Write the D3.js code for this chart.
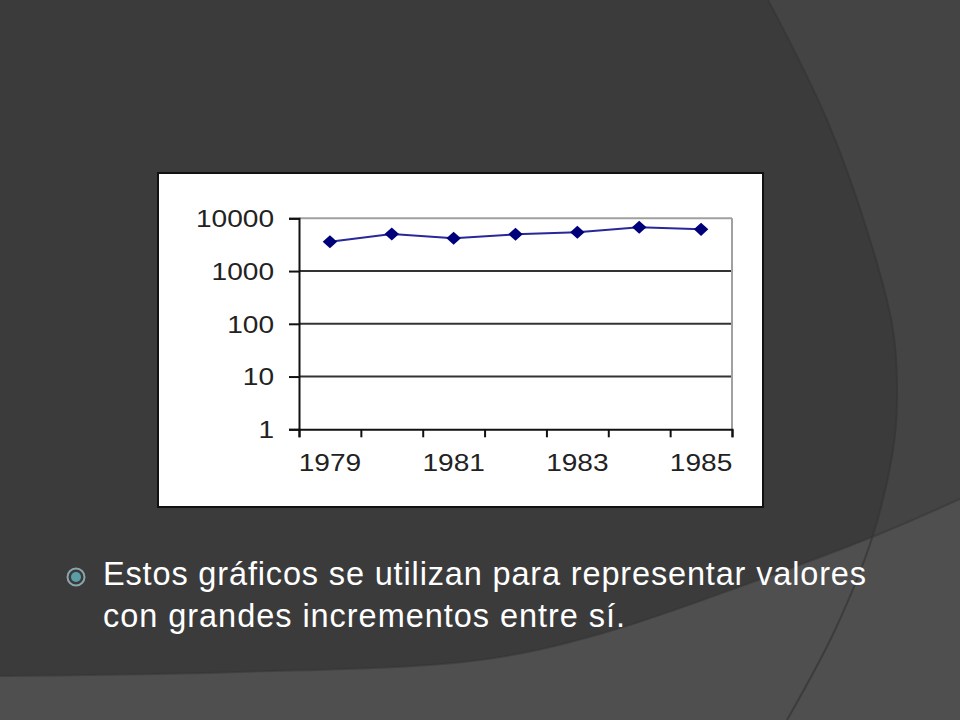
<!DOCTYPE html>
<html><head><meta charset="utf-8">
<script src="https://cdn.jsdelivr.net/npm/d3@7"></script>
<style>html,body{margin:0;padding:0;background:#3b3b3b;overflow:hidden}svg{display:block}</style>
</head><body>
<svg id="c" width="960" height="720"></svg>
<script>
const years = ["1979","1980","1981","1982","1983","1984","1985"];
const values = [3600, 5040, 4180, 4980, 5430, 6760, 6170];
const yTickValues = [1, 10, 100, 1000, 10000];
const xLabelYears = ["1979","1981","1983","1985"];
const bulletLines = ["Estos gráficos se utilizan para representar valores", "con grandes incrementos entre sí."];

(function(){
const svg = d3.select("#c");

// ---- slide background ----
svg.append("rect").attr("width",960).attr("height",720).attr("fill","#3b3b3b");
const arcPts = [[768,0],[827,120],[870,240],[893,330],[897,400],[893,450],[873,535],[835,630],[787,720]];
const smooth = d3.line().curve(d3.curveCatmullRom.alpha(0.5));
svg.append("path")
  .attr("d", smooth(arcPts) + "L960,720L960,0Z")
  .attr("fill","#444444");
const bandPts = [[0,676],[240,672],[480,660],[600,634],[750,583],[877,535],[960,499]];
svg.append("path")
  .attr("d", smooth(bandPts) + "L960,720L0,720Z")
  .attr("fill","#4f4f4f");
svg.append("path").attr("d", smooth(bandPts)).attr("fill","none")
  .attr("stroke","#333").attr("stroke-width",2).attr("opacity",0.5);
svg.append("path").attr("d", smooth(arcPts)).attr("fill","none")
  .attr("stroke","#353535").attr("stroke-width",2).attr("opacity",0.7);

// ---- chart box ----
svg.append("rect").attr("x",158).attr("y",173).attr("width",605).attr("height",334)
  .attr("fill","#ffffff").attr("stroke","#111").attr("stroke-width",2);

const pLeft = 299, pRight = 732, pTop = 218.3, pBottom = 429.3;
const x = d3.scaleBand().domain(years).range([pLeft, pRight]).paddingInner(0).paddingOuter(0);
const y = d3.scaleLog().domain([1, 10000]).range([pBottom, pTop]);
const xTicks = d3.scaleLinear().domain([0, years.length]).range([pLeft, pRight]);

// gridlines
const g = svg.append("g");
g.selectAll("line.grid").data(yTickValues.filter(v => v > 1 && v < 10000)).join("line")
  .attr("class","grid").attr("x1",pLeft).attr("x2",pRight)
  .attr("y1",d=>y(d)).attr("y2",d=>y(d))
  .attr("stroke","#333").attr("stroke-width",2);
g.append("line").attr("x1",pLeft).attr("x2",pRight).attr("y1",y(10000)).attr("y2",y(10000))
  .attr("stroke","#a0a0a0").attr("stroke-width",2);
g.append("line").attr("x1",pRight).attr("x2",pRight).attr("y1",y(10000)).attr("y2",pBottom)
  .attr("stroke","#a0a0a0").attr("stroke-width",2);

const fontFam = "'Liberation Sans', Arial, sans-serif";

// y axis
const yAxis = svg.append("g").attr("transform",`translate(${pLeft},0)`)
  .call(d3.axisLeft(y).tickValues(yTickValues).tickSize(10).tickPadding(15).tickFormat(d3.format("d")));
yAxis.select(".domain").attr("stroke","#111").attr("stroke-width",2);
yAxis.selectAll(".tick line").attr("stroke","#111").attr("stroke-width",2);
yAxis.selectAll(".tick text").attr("x",0).attr("dy","0.35em")
  .attr("transform","translate(-25,0) scale(1.17,1)")
  .style("font-family",fontFam).style("font-size","24px").attr("fill","#222");

// x axis tick marks at category boundaries
const xAxisT = svg.append("g").attr("transform",`translate(0,${pBottom})`)
  .call(d3.axisBottom(xTicks).tickValues(d3.range(years.length+1)).tickSize(8).tickFormat(""));
xAxisT.select(".domain").attr("stroke","#111").attr("stroke-width",2);
xAxisT.selectAll(".tick line").attr("stroke","#111").attr("stroke-width",2);
// x labels at every other category
const xAxisL = svg.append("g").attr("transform",`translate(0,${pBottom})`)
  .call(d3.axisBottom(x).tickValues(xLabelYears).tickSize(0).tickPadding(25));
xAxisL.select(".domain").remove();
xAxisL.selectAll(".tick text").attr("y",0).attr("dy",0)
  .attr("transform","translate(0,42) scale(1.17,1)")
  .style("font-family",fontFam).style("font-size","24px").attr("fill","#222");

// series line
const cx = d => x(d) + x.bandwidth()/2;
const data = years.map((yr,i)=>({yr, v: values[i]}));
svg.append("path").datum(data)
  .attr("d", d3.line().x(d=>cx(d.yr)).y(d=>y(d.v)))
  .attr("fill","none").attr("stroke","#28289a").attr("stroke-width",2);
svg.selectAll("path.pt").data(data).join("path").attr("class","pt")
  .attr("transform", d=>`translate(${cx(d.yr)},${y(d.v)}) scale(1.1,1)`)
  .attr("d", d3.symbol(d3.symbolDiamond2, 110)())
  .attr("fill","#00007a");

// ---- bullet text ----
svg.append("circle").attr("cx",76).attr("cy",577).attr("r",8.5)
  .attr("fill","none").attr("stroke","#8aa6ad").attr("stroke-width",2);
svg.append("circle").attr("cx",76).attr("cy",577).attr("r",5).attr("fill","#5b9ea8");
const lineWidths = [763, 522];
svg.selectAll("text.body").data(bulletLines).join("text").attr("class","body")
  .attr("x",103).attr("y",(d,i)=>585 + i*42)
  .attr("textLength",(d,i)=>lineWidths[i]).attr("lengthAdjust","spacing")
  .style("font-family",fontFam).style("font-size","32.5px").attr("fill","#ffffff")
  .text(d=>d);
})();
</script>
</body></html>
